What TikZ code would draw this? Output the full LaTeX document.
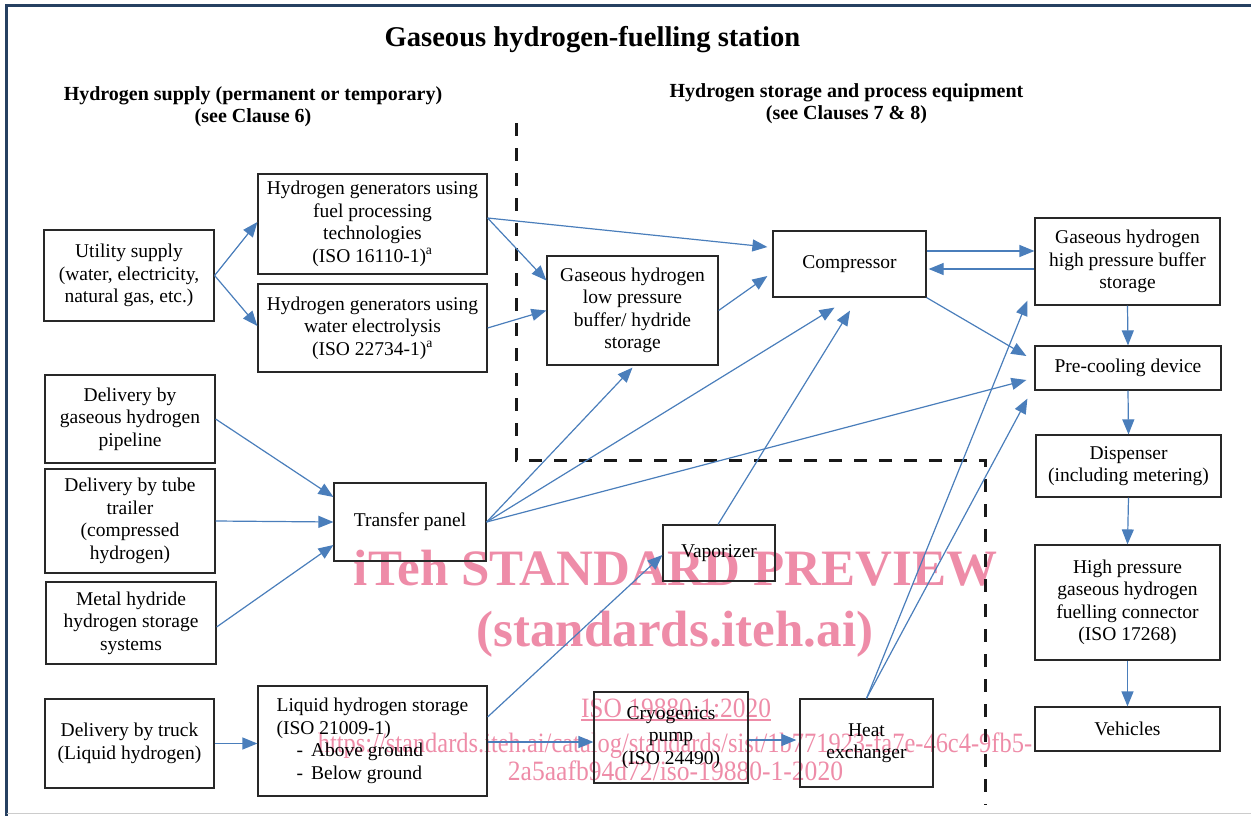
\documentclass[tikz,border=0pt]{standalone}
\usepackage{fontspec}
\setmainfont{Liberation Serif}
\usetikzlibrary{arrows.meta,calc}
\definecolor{arr}{RGB}{74,126,187}
\definecolor{wm}{RGB}{238,140,168}
\definecolor{navy}{RGB}{38,64,97}
\definecolor{boxc}{RGB}{40,40,40}
\definecolor{dashc}{RGB}{25,25,25}
\begin{document}
\begin{tikzpicture}[x=1pt,y=-1pt,
  box/.style={draw=boxc, line width=1.2pt, align=center, inner sep=2pt,
    font=\fontsize{19.5}{22.5}\selectfont},
  flow/.style={draw=arr, line width=1.2pt, -{Triangle[length=15pt,width=12pt]}},
  head/.style={font=\fontsize{20}{22}\selectfont\bfseries, inner sep=0pt},
  wmbig/.style={text=wm, font=\fontsize{51}{51}\selectfont\bfseries, inner sep=0pt},
  wmsmall/.style={text=wm, font=\fontsize{28}{28}\selectfont, inner sep=0pt},
  sep/.style={draw=dashc, line width=3pt, dash pattern=on 13pt off 12pt}
]
\useasboundingbox (0,0) rectangle (1251,816);
% frame
\draw[navy, line width=3pt] (6.5,816) -- (6.5,5.5) -- (1251,5.5);
\draw[black!20, line width=1pt] (6.5,813.5) -- (1251,813.5);

% watermark
\node[wmbig, anchor=base] (wm1) at (675.5,585) {iTeh STANDARD PREVIEW};
\node[wmbig, anchor=base] (wm2) at (675,646) {(standards.iteh.ai)};
\node[wmsmall, anchor=base] (wm3) at (676,717) {\scalebox{0.908}[1]{ISO 19880-1:2020}};
\draw[wm, line width=1.2pt] ([yshift=-3pt]wm3.base west) -- ([yshift=-3pt]wm3.base east);
\node[wmsmall, anchor=base] (wm4) at (675,752) {\scalebox{0.873}[1]{https://standards.iteh.ai/catalog/standards/sist/1b771923-fa7e-46c4-9fb5-}};
\node[wmsmall, anchor=base] (wm5) at (675.5,780) {\scalebox{0.913}[1]{2a5aafb94d72/iso-19880-1-2020}};

% titles
\node[anchor=base, inner sep=0pt, font=\fontsize{28.6}{30}\selectfont\bfseries] (title) at (592.5,46.5) {Gaseous hydrogen-fuelling station};
\node[head, anchor=base] (h1a) at (253,100) {Hydrogen supply (permanent or temporary)};
\node[head, anchor=base] (h1b) at (253,122) {(see Clause 6)};
\node[head, anchor=base] (h2a) at (846.5,97) {Hydrogen storage and process equipment};
\node[head, anchor=base] (h2b) at (846.5,119) {(see Clauses 7 \& 8)};

% separators
\draw[sep] (516,123) -- (516,460) -- (985,460) -- (985,805);

% boxes
\node[box, minimum width=170pt, minimum height=91pt] (util) at (129,275.5) {Utility supply\\(water, electricity,\\natural gas, etc.)};
\node[box, minimum width=229pt, minimum height=100pt] (fuel) at (372.5,224) {Hydrogen generators using\\fuel processing\\technologies\\(ISO 16110-1)\textsuperscript{a}};
\node[box, minimum width=229pt, minimum height=88pt] (elec) at (372.5,328) {Hydrogen generators using\\water electrolysis\\(ISO 22734-1)\textsuperscript{a}};
\node[box, minimum width=171pt, minimum height=109pt] (low) at (632.5,310.5) {Gaseous hydrogen\\low pressure\\buffer/ hydride\\storage};
\node[box, minimum width=153pt, minimum height=66pt] (comp) at (849.5,264) {Compressor};
\node[box, minimum width=185pt, minimum height=87pt] (high) at (1127.5,261.5) {Gaseous hydrogen\\high pressure buffer\\storage};
\node[box, minimum width=186pt, minimum height=44pt] (precool) at (1128,368) {Pre-cooling device};
\node[box, minimum width=185pt, minimum height=62pt] (disp) at (1128.5,466) {Dispenser\\(including metering)};
\node[box, minimum width=185pt, minimum height=115pt] (conn) at (1127.5,602.5) {High pressure\\gaseous hydrogen\\fuelling connector\\(ISO 17268)};
\node[box, minimum width=185pt, minimum height=44pt] (veh) at (1127.5,729) {Vehicles};
\node[box, minimum width=170pt, minimum height=88pt] (pipe) at (130,419) {Delivery by\\gaseous hydrogen\\pipeline};
\node[box, minimum width=170pt, minimum height=104pt] (tube) at (130,521) {Delivery by tube\\trailer\\(compressed\\hydrogen)};
\node[box, minimum width=170pt, minimum height=82pt] (metal) at (131,623) {Metal hydride\\hydrogen storage\\systems};
\node[box, minimum width=152pt, minimum height=78pt] (transfer) at (410,522) {Transfer panel};
\node[box, minimum width=112pt, minimum height=56pt] (vap) at (719,553) {Vaporizer};
\node[box, minimum width=229pt, minimum height=110pt, align=left] (liq) at (372.5,741) {Liquid hydrogen storage\\(ISO 21009-1)\\\hspace*{20pt}-\hspace{8pt}Above ground\\\hspace*{20pt}-\hspace{8pt}Below ground};
\node[box, minimum width=169pt, minimum height=89pt] (truck) at (129.5,743.5) {Delivery by truck\\(Liquid hydrogen)};
\node[box, minimum width=154pt, minimum height=91pt] (cryo) at (671,737.5) {Cryogenics\\pump\\(ISO 24490)};
\node[box, minimum width=133pt, minimum height=88pt] (heat) at (866.5,743) {Heat\\exchanger};

% connectors
\draw[flow] (util.east) -- ([yshift=2pt]fuel.west);
\draw[flow] (util.east) -- ([yshift=2pt]elec.west);
\draw[flow] ([yshift=6pt]fuel.east) -- ([xshift=-5pt,yshift=17pt]comp.west);
\draw[flow] ([yshift=6pt]fuel.east) -- ([yshift=30pt]low.west);
\draw[flow] (elec.east) -- (low.west);
\draw[flow] (low.east) -- ([xshift=-5pt,yshift=-12pt]comp.west);
\draw[flow] ([yshift=13pt]comp.east) -- ([yshift=10.5pt]high.west);
\draw[flow] ([yshift=-7.5pt]high.west) -- ([xshift=2pt,yshift=-5pt]comp.east);
\draw[flow] (comp.south east) -- ([xshift=-8pt,yshift=12pt]precool.west);
\draw[flow] (high.south) -- (precool.north);
\draw[flow] (precool.south) -- (disp.north);
\draw[flow] (disp.south) -- (conn.north);
\draw[flow] (conn.south) -- (veh.north);
\draw[flow] (pipe.east) -- ([yshift=25pt]transfer.west);
\draw[flow] (tube.east) -- (transfer.west);
\draw[flow] ([yshift=-4pt]metal.east) -- ([yshift=-23pt]transfer.west);
\draw[flow] (transfer.east) -- ([yshift=-2pt]low.south);
\draw[flow] (transfer.east) -- ([xshift=-15pt,yshift=-10pt]comp.south);
\draw[flow] (transfer.east) -- ([xshift=-8pt,yshift=-12pt]precool.west);
\draw[flow] ([xshift=-1pt]vap.north) -- ([xshift=0.5pt,yshift=-13pt]comp.south);
\draw[flow] ([yshift=24pt]liq.east) -- ([yshift=-2pt]vap.west);
\draw[flow] ([yshift=-1pt]liq.east) -- ([yshift=-4.5pt]cryo.west);
\draw[flow] ([yshift=-2.5pt]cryo.east) -- ([xshift=-3pt,yshift=3pt]heat.west);
\draw[flow] (heat.north) -- ([xshift=-7pt,yshift=5pt]high.south west);
\draw[flow] (heat.north) -- ([xshift=-7pt,yshift=-8pt]precool.south west);
\draw[flow] (truck.east) -- ([yshift=-2.5pt]liq.west);
\end{tikzpicture}
\end{document}
